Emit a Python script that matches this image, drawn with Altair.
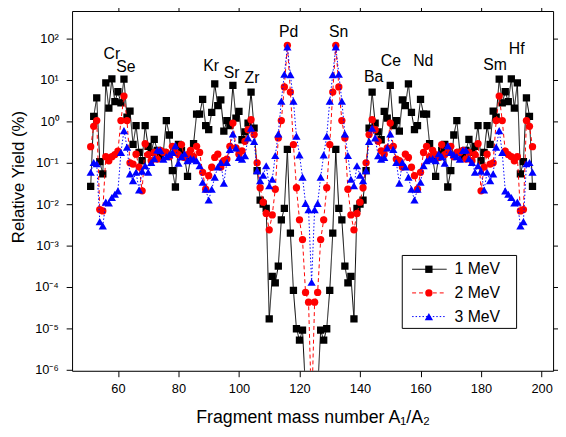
import altair as alt
import pandas as pd

# ---------------- data ----------------
mass = list(range(51, 198))  # fragment mass number A1/A2 (A1 + A2 = 248)

y_1mev = [
    0.027, 1.32, 3.7, 0.107, 0.054, 8.5, 2.1, 10.7, 3.0, 5.2,
    2.8, 10.5, 1.26, 1.78, 0.28, 0.79, 0.178, 0.112, 0.79, 0.25,
    0.178, 0.37, 0.20, 0.141, 0.178, 1.05, 0.47, 0.065, 0.026, 0.28,
    0.20, 0.141, 0.047, 0.126, 0.29, 1.5, 1.5, 3.4, 0.79, 0.63,
    1.66, 8.1, 2.4, 3.3, 0.58, 1.05, 0.79, 7.4, 1.2, 1.74,
    0.36, 0.56, 0.91, 5.1, 0.69, 0.065, 0.0126, 0.010, 0.0079, 1.7e-5,
    1.8e-4, 1.26e-4, 3.2e-4, 4.2e-3, 7.9e-3, 0.21, 2.0e-3, 8.3e-5, 9.8e-6, 5.2e-6,
    9.1e-6, 3.2e-7, 1e-7, 3.2e-8,
    1e-7, 3.2e-7, 9.1e-6, 5.2e-6, 9.8e-6, 8.3e-5, 2.0e-3, 0.21, 7.9e-3, 4.2e-3,
    3.2e-4, 1.26e-4, 1.8e-4, 1.7e-5, 0.0079, 0.010, 0.0126, 0.065, 0.69, 5.1,
    0.91, 0.56, 0.36, 1.74, 1.2, 7.4, 0.79, 1.05, 0.58, 3.3,
    2.4, 8.1, 1.66, 0.63, 0.79, 3.4, 1.5, 1.5, 0.29, 0.126,
    0.047, 0.141, 0.20, 0.28, 0.026, 0.065, 0.47, 1.05, 0.178, 0.141,
    0.20, 0.37, 0.178, 0.25, 0.79, 0.112, 0.178, 0.79, 0.28, 1.78,
    1.26, 10.5, 2.8, 5.2, 3.0, 10.7, 2.1, 8.5, 0.054, 0.107,
    3.7, 1.32, 0.027,
]

y_2mev = [
    0.245, 0.76, 1.05, 0.0074, 0.0069, 0.141, 0.112, 0.141, 0.158, 0.19,
    1.05, 4.1, 1.05, 0.10, 0.093, 0.162, 0.079, 0.021, 0.29, 0.158,
    0.112, 0.178, 0.123, 0.20, 0.18, 0.178, 0.141, 0.25, 0.178, 0.158,
    0.275, 0.135, 0.158, 0.20, 0.141, 0.25, 0.178, 0.059, 0.023, 0.049,
    0.078, 0.135, 0.162, 0.079, 0.112, 0.123, 0.25, 0.91, 0.23, 0.162,
    0.195, 0.33, 0.63, 1.1, 0.48, 0.10, 0.025, 0.0112, 0.006, 0.0024,
    0.0055, 0.023, 0.40, 1.05, 6.8, 69.0, 5.1, 0.275, 0.025, 0.0042,
    0.0014, 7.4e-5, 4.3e-5, 1e-7,
    4.3e-5, 7.4e-5, 0.0014, 0.0042, 0.025, 0.275, 5.1, 69.0, 6.8, 1.05,
    0.40, 0.023, 0.0055, 0.0024, 0.006, 0.0112, 0.025, 0.10, 0.48, 1.1,
    0.63, 0.33, 0.195, 0.162, 0.23, 0.91, 0.25, 0.123, 0.112, 0.079,
    0.162, 0.135, 0.078, 0.049, 0.023, 0.059, 0.178, 0.25, 0.141, 0.20,
    0.158, 0.135, 0.275, 0.158, 0.178, 0.25, 0.141, 0.178, 0.18, 0.20,
    0.123, 0.178, 0.112, 0.158, 0.29, 0.021, 0.079, 0.162, 0.093, 0.10,
    1.05, 4.1, 1.05, 0.19, 0.158, 0.141, 0.112, 0.141, 0.0069, 0.0074,
    1.05, 0.76, 0.245,
]

y_3mev = [
    0.059, 0.102, 0.095, 0.0038, 0.003, 0.0112, 0.0107, 0.0145, 0.0174, 0.021,
    0.178, 0.60, 0.24, 0.054, 0.037, 0.059, 0.022, 0.063, 0.085, 0.059,
    0.102, 0.126, 0.204, 0.20, 0.123, 0.141, 0.158, 0.178, 0.26, 0.098,
    0.141, 0.166, 0.112, 0.126, 0.123, 0.112, 0.085, 0.034, 0.023, 0.0126,
    0.023, 0.045, 0.079, 0.102, 0.032, 0.102, 0.21, 0.50, 0.23, 0.135,
    0.123, 0.148, 0.40, 0.69, 0.33, 0.065, 0.037, 0.05, 0.085, 0.028,
    0.040, 0.15, 0.50, 3.1, 13.8, 63.0, 13.5, 3.1, 0.44, 0.155,
    0.045, 0.0105, 0.0074, 1.3e-4,
    0.0074, 0.0105, 0.045, 0.155, 0.44, 3.1, 13.5, 63.0, 13.8, 3.1,
    0.50, 0.15, 0.040, 0.028, 0.085, 0.05, 0.037, 0.065, 0.33, 0.69,
    0.40, 0.148, 0.123, 0.135, 0.23, 0.50, 0.21, 0.102, 0.032, 0.102,
    0.079, 0.045, 0.023, 0.0126, 0.023, 0.034, 0.085, 0.112, 0.123, 0.126,
    0.112, 0.166, 0.141, 0.098, 0.26, 0.178, 0.158, 0.141, 0.123, 0.20,
    0.204, 0.126, 0.102, 0.059, 0.085, 0.063, 0.022, 0.059, 0.037, 0.054,
    0.24, 0.60, 0.178, 0.021, 0.0174, 0.0145, 0.0107, 0.0112, 0.003, 0.0038,
    0.095, 0.102, 0.059,
]

series_names = ["1 MeV", "2 MeV", "3 MeV"]

elements = ["Cr", "Se", "Kr", "Sr", "Zr", "Pd", "Sn", "Ba", "Ce", "Nd", "Sm", "Hf"]
element_mass = [58.0, 62.6, 90.8, 97.6, 104.3, 116.4, 132.9, 144.5, 150.2, 160.9, 184.6, 191.8]
element_yield = [41.7, 20.4, 21.4, 14.8, 11.2, 141.0, 141.0, 11.7, 28.2, 28.2, 22.9, 56.2]

x_ticks = [60, 80, 100, 120, 140, 160, 180, 200]
y_ticks = [1e-6, 1e-5, 1e-4, 1e-3, 1e-2, 1e-1, 1e0, 1e1, 1e2]

# ---------------- chart ----------------
FONT = "Liberation Sans"
W, H = 488, 365

xs = alt.Scale(domain=[44.85, 203.8], nice=False, zero=False)
ys = alt.Scale(type="log", domain=[9.47e-7, 464], nice=False)

sup = "['\u207b\u2076','\u207b\u2075','\u207b\u2074','\u207b\u00b3','\u207b\u00b2','\u207b\u00b9','\u2070','\u00b9','\u00b2']"
ylabel_expr = "'10' + " + sup + "[round(log(datum.value)/LN10)+6]"

x_axis_main = alt.Axis(values=x_ticks, title="Fragment mass number A\u2081/A\u2082",
                       grid=False, tickSize=6, labelPadding=6, labelFontSize=13,
                       titleFontSize=18, titleFontWeight="normal", titleY=52,
                       titleBaseline="alphabetic", labelFont=FONT, titleFont=FONT,
                       domainColor="black", tickColor="black", labelColor="black",
                       titleColor="black", labelFlush=False)
y_axis_main = alt.Axis(values=y_ticks, title="Relative Yield (%)", grid=False,
                       tickSize=6, labelPadding=8, labelFontSize=13, titleFontSize=17,
                       titleFontWeight="normal", labelExpr=ylabel_expr,
                       titleX=-54, titleY=168, titleAlign="center", titleBaseline="middle",
                       titleAngle=270, labelFont=FONT, titleFont=FONT,
                       domainColor="black", tickColor="black", labelColor="black",
                       titleColor="black", labelFlush=False)

colors = ["#000000", "#ff0000", "#0000ff"]
dashes = [[1, 0], [4, 3], [1.5, 2]]
shapes = ["square", "circle", "triangle-up"]
sizes = [55, 55, 70]
yields = [y_1mev, y_2mev, y_3mev]

layers = []
for i in range(3):
    df = pd.DataFrame({"A": mass, "Y": yields[i], "s": series_names[i]})
    if i == 0:
        xe = alt.X("A:Q", scale=xs, axis=x_axis_main)
        ye = alt.Y("Y:Q", scale=ys, axis=y_axis_main)
    else:
        xe = alt.X("A:Q", scale=xs, axis=None)
        ye = alt.Y("Y:Q", scale=ys, axis=None)
    line = alt.Chart(df).mark_line(color=colors[i], strokeWidth=1, strokeDash=dashes[i],
                                   clip=True).encode(x=xe, y=ye)
    pts = alt.Chart(df).mark_point(shape=shapes[i], filled=True, color=colors[i], opacity=1,
                                   size=sizes[i], clip=True).encode(
        x=alt.X("A:Q", scale=xs, axis=None), y=alt.Y("Y:Q", scale=ys, axis=None))
    layers += [line, pts]

# mirror axes (top / right) with ticks only
frame_df = pd.DataFrame({"A": [60, 200], "Y": [1e-6, 1e2]})
frame = alt.Chart(frame_df).mark_point(opacity=0).encode(
    x=alt.X("A:Q", scale=xs, axis=alt.Axis(orient="top", values=x_ticks, labels=False,
                                           title=None, grid=False, tickSize=6,
                                           domainColor="black", tickColor="black")),
    y=alt.Y("Y:Q", scale=ys, axis=alt.Axis(orient="right", values=y_ticks, labels=False,
                                           title=None, grid=False, tickSize=6,
                                           domainColor="black", tickColor="black")),
)

ann_df = pd.DataFrame({"A": element_mass, "Y": element_yield, "t": elements})
ann = alt.Chart(ann_df).mark_text(font=FONT, fontSize=16, color="black",
                                  align="center", baseline="middle").encode(
    x=alt.X("A:Q", scale=xs, axis=None), y=alt.Y("Y:Q", scale=ys, axis=None), text="t:N")

# legend (drawn by hand, in pixel positions of the plot area)
leg_box = alt.Chart(pd.DataFrame({"k": [0]})).mark_rect(
    fill="white", stroke="black", strokeWidth=1).encode(
    x=alt.value(335), x2=alt.value(451), y=alt.value(248), y2=alt.value(322))
legend_layers = [leg_box]
row_y = [262, 286, 310]
for i in range(3):
    d = pd.DataFrame({"t": [series_names[i]]})
    legend_layers.append(alt.Chart(d).mark_rule(color=colors[i], strokeWidth=1,
                                                strokeDash=dashes[i]).encode(
        x=alt.value(345), x2=alt.value(380), y=alt.value(row_y[i])))
    legend_layers.append(alt.Chart(d).mark_point(shape=shapes[i], filled=True, opacity=1,
                                                 color=colors[i], size=sizes[i]).encode(
        x=alt.value(362), y=alt.value(row_y[i])))
    legend_layers.append(alt.Chart(d).mark_text(font=FONT, fontSize=16, color="black",
                                                align="left", baseline="middle").encode(
        x=alt.value(388), y=alt.value(row_y[i]), text="t:N"))

chart = alt.layer(*layers, frame, ann, *legend_layers).resolve_axis(
    x="independent", y="independent"
).properties(
    width=W, height=H,
    autosize=alt.AutoSizeParams(type="none"),
    padding={"left": 65, "top": 0, "right": 5, "bottom": 56},
).configure_view(stroke="black", strokeWidth=1).configure(background="white")

chart.save("out.html", embed_options={"renderer": "svg", "actions": False})
